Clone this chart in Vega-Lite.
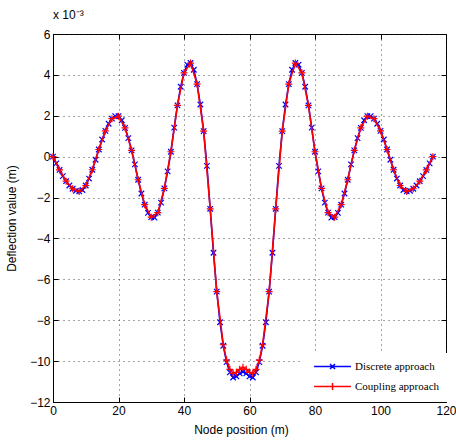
{
  "$schema": "https://vega.github.io/schema/vega-lite/v6.json",
  "width": 393,
  "height": 368,
  "autosize": "none",
  "padding": {"left": 53, "top": 34, "right": 10, "bottom": 42},
  "background": "white",
  "title": {"text": "x 10⁻³", "anchor": "start", "frame": "group", "font": "Liberation Sans", "fontSize": 12, "fontWeight": "normal", "offset": 6, "color": "black"},
  "config": {
    "view": {"stroke": "black", "strokeWidth": 1},
    "axis": {
      "labelFont": "Liberation Sans", "labelFontSize": 12, "labelColor": "black", "labelFlush": false, "labelOverlap": false,
      "titleFont": "Liberation Sans", "titleFontSize": 12, "titleFontWeight": "normal", "titleColor": "black",
      "domainColor": "black", "tickColor": "black", "tickSize": -5, "labelPadding": 8,
      "gridColor": "#222", "gridDash": [1, 4], "gridOpacity": 0.8
    }
  },
  "datasets": {
    "pts": [
      {"series":"Discrete approach","x":0,"y":0},{"series":"Discrete approach","x":1,"y":-0.33},{"series":"Discrete approach","x":2,"y":-0.65},{"series":"Discrete approach","x":3,"y":-0.95},{"series":"Discrete approach","x":4,"y":-1.2},{"series":"Discrete approach","x":5,"y":-1.41},{"series":"Discrete approach","x":6,"y":-1.57},{"series":"Discrete approach","x":7,"y":-1.67},{"series":"Discrete approach","x":8,"y":-1.7},{"series":"Discrete approach","x":9,"y":-1.63},
      {"series":"Discrete approach","x":10,"y":-1.41},{"series":"Discrete approach","x":11,"y":-1.07},{"series":"Discrete approach","x":12,"y":-0.64},{"series":"Discrete approach","x":13,"y":-0.15},{"series":"Discrete approach","x":14,"y":0.35},{"series":"Discrete approach","x":15,"y":0.84},{"series":"Discrete approach","x":16,"y":1.26},{"series":"Discrete approach","x":17,"y":1.61},{"series":"Discrete approach","x":18,"y":1.86},{"series":"Discrete approach","x":19,"y":1.98},
      {"series":"Discrete approach","x":20,"y":1.98},{"series":"Discrete approach","x":21,"y":1.78},{"series":"Discrete approach","x":22,"y":1.41},{"series":"Discrete approach","x":23,"y":0.91},{"series":"Discrete approach","x":24,"y":0.31},{"series":"Discrete approach","x":25,"y":-0.38},{"series":"Discrete approach","x":26,"y":-1.13},{"series":"Discrete approach","x":27,"y":-1.8},{"series":"Discrete approach","x":28,"y":-2.35},{"series":"Discrete approach","x":29,"y":-2.75},
      {"series":"Discrete approach","x":30,"y":-2.96},{"series":"Discrete approach","x":31,"y":-2.98},{"series":"Discrete approach","x":32,"y":-2.74},{"series":"Discrete approach","x":33,"y":-2.25},{"series":"Discrete approach","x":34,"y":-1.55},{"series":"Discrete approach","x":35,"y":-0.72},{"series":"Discrete approach","x":36,"y":0.24},{"series":"Discrete approach","x":37,"y":1.42},{"series":"Discrete approach","x":38,"y":2.51},{"series":"Discrete approach","x":39,"y":3.42},
      {"series":"Discrete approach","x":40,"y":4.1},{"series":"Discrete approach","x":41,"y":4.5},{"series":"Discrete approach","x":42,"y":4.58},{"series":"Discrete approach","x":43,"y":4.25},{"series":"Discrete approach","x":44,"y":3.55},{"series":"Discrete approach","x":45,"y":2.55},{"series":"Discrete approach","x":46,"y":1.25},{"series":"Discrete approach","x":47,"y":-0.45},{"series":"Discrete approach","x":48,"y":-2.55},{"series":"Discrete approach","x":49,"y":-4.7},
      {"series":"Discrete approach","x":50,"y":-6.6},{"series":"Discrete approach","x":51,"y":-8.1},{"series":"Discrete approach","x":52,"y":-9.25},{"series":"Discrete approach","x":53,"y":-10.05},{"series":"Discrete approach","x":54,"y":-10.55},{"series":"Discrete approach","x":55,"y":-10.8},{"series":"Discrete approach","x":56,"y":-10.75},{"series":"Discrete approach","x":57,"y":-10.6},{"series":"Discrete approach","x":58,"y":-10.52},{"series":"Discrete approach","x":59,"y":-10.6},
      {"series":"Discrete approach","x":60,"y":-10.75},{"series":"Discrete approach","x":61,"y":-10.8},{"series":"Discrete approach","x":62,"y":-10.55},{"series":"Discrete approach","x":63,"y":-10.05},{"series":"Discrete approach","x":64,"y":-9.25},{"series":"Discrete approach","x":65,"y":-8.1},{"series":"Discrete approach","x":66,"y":-6.6},{"series":"Discrete approach","x":67,"y":-4.7},{"series":"Discrete approach","x":68,"y":-2.55},{"series":"Discrete approach","x":69,"y":-0.45},
      {"series":"Discrete approach","x":70,"y":1.25},{"series":"Discrete approach","x":71,"y":2.55},{"series":"Discrete approach","x":72,"y":3.55},{"series":"Discrete approach","x":73,"y":4.25},{"series":"Discrete approach","x":74,"y":4.58},{"series":"Discrete approach","x":75,"y":4.5},{"series":"Discrete approach","x":76,"y":4.1},{"series":"Discrete approach","x":77,"y":3.42},{"series":"Discrete approach","x":78,"y":2.51},{"series":"Discrete approach","x":79,"y":1.42},
      {"series":"Discrete approach","x":80,"y":0.24},{"series":"Discrete approach","x":81,"y":-0.72},{"series":"Discrete approach","x":82,"y":-1.55},{"series":"Discrete approach","x":83,"y":-2.25},{"series":"Discrete approach","x":84,"y":-2.74},{"series":"Discrete approach","x":85,"y":-2.98},{"series":"Discrete approach","x":86,"y":-2.96},{"series":"Discrete approach","x":87,"y":-2.75},{"series":"Discrete approach","x":88,"y":-2.35},{"series":"Discrete approach","x":89,"y":-1.8},
      {"series":"Discrete approach","x":90,"y":-1.13},{"series":"Discrete approach","x":91,"y":-0.38},{"series":"Discrete approach","x":92,"y":0.31},{"series":"Discrete approach","x":93,"y":0.91},{"series":"Discrete approach","x":94,"y":1.41},{"series":"Discrete approach","x":95,"y":1.78},{"series":"Discrete approach","x":96,"y":1.98},{"series":"Discrete approach","x":97,"y":1.98},{"series":"Discrete approach","x":98,"y":1.86},{"series":"Discrete approach","x":99,"y":1.61},
      {"series":"Discrete approach","x":100,"y":1.26},{"series":"Discrete approach","x":101,"y":0.84},{"series":"Discrete approach","x":102,"y":0.35},{"series":"Discrete approach","x":103,"y":-0.15},{"series":"Discrete approach","x":104,"y":-0.64},{"series":"Discrete approach","x":105,"y":-1.07},{"series":"Discrete approach","x":106,"y":-1.41},{"series":"Discrete approach","x":107,"y":-1.63},{"series":"Discrete approach","x":108,"y":-1.7},{"series":"Discrete approach","x":109,"y":-1.67},
      {"series":"Discrete approach","x":110,"y":-1.57},{"series":"Discrete approach","x":111,"y":-1.41},{"series":"Discrete approach","x":112,"y":-1.2},{"series":"Discrete approach","x":113,"y":-0.95},{"series":"Discrete approach","x":114,"y":-0.65},{"series":"Discrete approach","x":115,"y":-0.33},{"series":"Discrete approach","x":116,"y":0},
      {"series":"Coupling approach","x":0,"y":0},{"series":"Coupling approach","x":2,"y":-0.65},{"series":"Coupling approach","x":4,"y":-1.2},{"series":"Coupling approach","x":6,"y":-1.57},{"series":"Coupling approach","x":8,"y":-1.7},{"series":"Coupling approach","x":10,"y":-1.41},{"series":"Coupling approach","x":12,"y":-0.64},{"series":"Coupling approach","x":14,"y":0.35},{"series":"Coupling approach","x":16,"y":1.26},{"series":"Coupling approach","x":18,"y":1.86},
      {"series":"Coupling approach","x":20,"y":1.98},{"series":"Coupling approach","x":22,"y":1.41},{"series":"Coupling approach","x":24,"y":0.31},{"series":"Coupling approach","x":26,"y":-1.13},{"series":"Coupling approach","x":28,"y":-2.35},{"series":"Coupling approach","x":30,"y":-2.96},{"series":"Coupling approach","x":32,"y":-2.74},{"series":"Coupling approach","x":34,"y":-1.55},{"series":"Coupling approach","x":36,"y":0.24},{"series":"Coupling approach","x":38,"y":2.51},
      {"series":"Coupling approach","x":40,"y":4.1},{"series":"Coupling approach","x":42,"y":4.58},{"series":"Coupling approach","x":44,"y":3.55},{"series":"Coupling approach","x":46,"y":1.25},{"series":"Coupling approach","x":48,"y":-2.55},{"series":"Coupling approach","x":50,"y":-6.6},{"series":"Coupling approach","x":52,"y":-9.2},{"series":"Coupling approach","x":53,"y":-9.95},{"series":"Coupling approach","x":54,"y":-10.4},{"series":"Coupling approach","x":55,"y":-10.6},
      {"series":"Coupling approach","x":56,"y":-10.55},{"series":"Coupling approach","x":57,"y":-10.4},{"series":"Coupling approach","x":58,"y":-10.3},{"series":"Coupling approach","x":59,"y":-10.4},{"series":"Coupling approach","x":60,"y":-10.55},{"series":"Coupling approach","x":61,"y":-10.6},{"series":"Coupling approach","x":62,"y":-10.4},{"series":"Coupling approach","x":63,"y":-9.95},{"series":"Coupling approach","x":64,"y":-9.2},{"series":"Coupling approach","x":66,"y":-6.6},
      {"series":"Coupling approach","x":68,"y":-2.55},{"series":"Coupling approach","x":70,"y":1.25},{"series":"Coupling approach","x":72,"y":3.55},{"series":"Coupling approach","x":74,"y":4.58},{"series":"Coupling approach","x":76,"y":4.1},{"series":"Coupling approach","x":78,"y":2.51},{"series":"Coupling approach","x":80,"y":0.24},{"series":"Coupling approach","x":82,"y":-1.55},{"series":"Coupling approach","x":84,"y":-2.74},{"series":"Coupling approach","x":86,"y":-2.96},
      {"series":"Coupling approach","x":88,"y":-2.35},{"series":"Coupling approach","x":90,"y":-1.13},{"series":"Coupling approach","x":92,"y":0.31},{"series":"Coupling approach","x":94,"y":1.41},{"series":"Coupling approach","x":96,"y":1.98},{"series":"Coupling approach","x":98,"y":1.86},{"series":"Coupling approach","x":100,"y":1.26},{"series":"Coupling approach","x":102,"y":0.35},{"series":"Coupling approach","x":104,"y":-0.64},{"series":"Coupling approach","x":106,"y":-1.41},
      {"series":"Coupling approach","x":108,"y":-1.7},{"series":"Coupling approach","x":110,"y":-1.57},{"series":"Coupling approach","x":112,"y":-1.2},{"series":"Coupling approach","x":114,"y":-0.65},{"series":"Coupling approach","x":116,"y":0}
    ]
  },
  "data": {"name": "pts"},
  "layer": [
    {
      "transform": [{"filter": "datum.series == 'Discrete approach'"}],
      "mark": {"type": "line", "strokeWidth": 1.6, "point": {"shape": "M-1,-1L1,1M-1,1L1,-1", "filled": false, "size": 30, "strokeWidth": 1.2}},
      "encoding": {
        "x": {"field": "x", "type": "quantitative", "scale": {"domain": [0, 120], "nice": false},
          "axis": {"orient": "bottom", "values": [0, 20, 40, 60, 80, 100, 120], "title": "Node position (m)", "grid": true, "titlePadding": 8, "titleX": 188}},
        "y": {"field": "y", "type": "quantitative", "scale": {"domain": [-12, 6], "nice": false},
          "axis": {"orient": "left", "values": [-12, -10, -8, -6, -4, -2, 0, 2, 4, 6], "title": "Deflection value (m)", "grid": true, "titlePadding": 11}},
        "color": {"field": "series", "type": "nominal",
          "scale": {"domain": ["Discrete approach", "Coupling approach"], "range": ["#0000ff", "#ff0000"]},
          "legend": {"title": null, "orient": "none", "legendX": 250, "legendY": 319, "fillColor": "white", "padding": 8,
            "labelFont": "Liberation Serif", "labelFontSize": 11, "labelColor": "black",
            "symbolSize": 85, "symbolStrokeWidth": 1.5, "symbolOffset": 16, "labelOffset": 17, "rowPadding": 7,
            "encode": {"symbols": {"update": {"shape": {"signal": "datum.value == 'Discrete approach' ? 'M-4,0H4M-0.54,-0.54L0.54,0.54M-0.54,0.54L0.54,-0.54' : 'M-4,0H4M0,-0.76V0.76'"}, "fill": {"value": "transparent"}}}}}}
      }
    },
    {
      "transform": [{"filter": "datum.series == 'Coupling approach'"}],
      "mark": {"type": "line", "strokeWidth": 1.6, "point": {"shape": "M-1,0H1M0,-1V1", "filled": false, "size": 49, "strokeWidth": 1.2}},
      "encoding": {
        "x": {"field": "x", "type": "quantitative", "scale": {"domain": [0, 120], "nice": false},
          "axis": {"orient": "top", "values": [0, 20, 40, 60, 80, 100, 120], "labels": false, "title": null, "grid": false, "domain": false}},
        "y": {"field": "y", "type": "quantitative", "scale": {"domain": [-12, 6], "nice": false},
          "axis": {"orient": "right", "values": [-12, -10, -8, -6, -4, -2, 0, 2, 4, 6], "labels": false, "title": null, "grid": false, "domain": false}},
        "color": {"field": "series", "type": "nominal",
          "scale": {"domain": ["Discrete approach", "Coupling approach"], "range": ["#0000ff", "#ff0000"]},
          "legend": {"title": null, "orient": "none", "legendX": 250, "legendY": 319, "fillColor": "white", "padding": 8,
            "labelFont": "Liberation Serif", "labelFontSize": 11, "labelColor": "black",
            "symbolSize": 85, "symbolStrokeWidth": 1.5, "symbolOffset": 16, "labelOffset": 17, "rowPadding": 7,
            "encode": {"symbols": {"update": {"shape": {"signal": "datum.value == 'Discrete approach' ? 'M-4,0H4M-0.54,-0.54L0.54,0.54M-0.54,0.54L0.54,-0.54' : 'M-4,0H4M0,-0.76V0.76'"}, "fill": {"value": "transparent"}}}}}}
      }
    }
  ],
  "resolve": {"axis": {"x": "independent", "y": "independent"}}
}
